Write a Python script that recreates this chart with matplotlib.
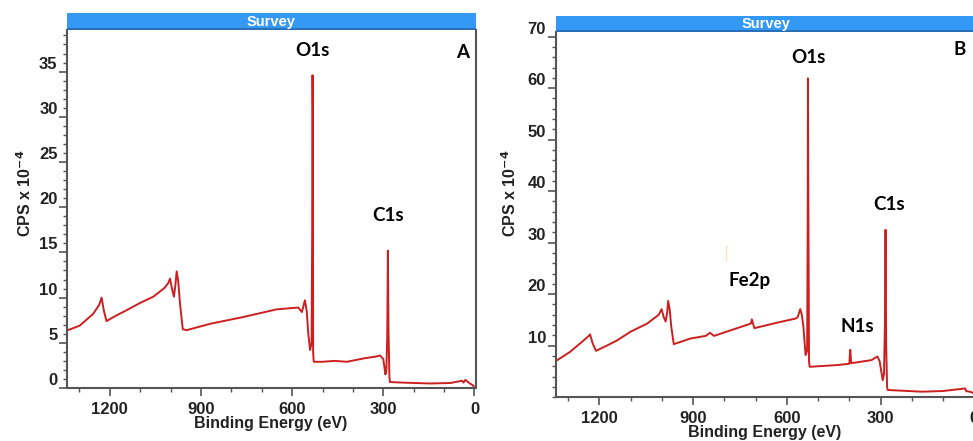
import matplotlib
matplotlib.use("Agg")
import matplotlib.pyplot as plt
from matplotlib.patches import Rectangle
from matplotlib.ticker import MultipleLocator, FixedLocator

# ---------------- data ----------------
be_a = [1338, 1299, 1255, 1235, 1227, 1220, 1211, 1180, 1145, 1101, 1057, 1030,
        1019, 1008, 1002, 995, 989, 984, 980, 975, 969, 960, 947, 870, 761, 651,
        580, 568, 558, 552, 547, 541, 536, 534, 533, 532, 531, 529, 500, 460, 420,
        360, 320, 311, 300, 293, 290, 287, 285, 283, 280, 278, 240, 146, 80, 41,
        36, 30, 15, 5, 0]
cps_a = [6.4, 6.9, 8.2, 9.2, 10.0, 8.6, 7.4, 8.0, 8.6, 9.4, 10.1, 10.8,
         11.1, 11.6, 12.1, 10.9, 10.1, 11.5, 12.9, 11.8, 9.3, 6.5, 6.4, 7.1, 7.85, 8.7,
         8.9, 8.4, 9.7, 8.5, 6.0, 4.2, 5.0, 18.0, 34.6, 30.0, 4.0, 2.9, 2.9, 3.0, 2.9,
         3.3, 3.5, 3.6, 3.2, 1.5, 2.0, 5.8, 15.2, 6.5, 1.2, 0.66, 0.6, 0.5, 0.55, 0.8,
         0.6, 0.9, 0.5, 0.3, 0.0]

be_b = [1335, 1294, 1251, 1236, 1230, 1222, 1211, 1180, 1144, 1101, 1047, 1010,
        1001, 994, 988, 983, 980, 975, 970, 962, 908, 860, 846, 833, 779, 715,
        712, 704, 629, 570, 565, 557, 552, 547, 540, 535, 533, 532.5, 531, 529,
        527, 436, 400, 397, 394, 329, 310, 303, 293, 289, 286, 284, 282, 279,
        277, 168, 100, 29, 26, 10, 2]
cps_b = [7.2, 8.8, 11.0, 11.8, 12.2, 10.5, 9.0, 9.9, 11.0, 12.7, 14.3, 16.0,
         17.1, 15.5, 14.7, 16.5, 18.7, 17.0, 13.7, 10.3, 11.4, 11.9, 12.5, 11.9, 13.0, 14.3,
         15.1, 13.4, 14.5, 15.3, 15.6, 17.1, 16.0, 13.7, 8.2, 9.0, 37.0, 61.9, 37.0, 7.0,
         5.9, 6.25, 6.5, 9.2, 6.6, 7.2, 7.9, 7.0, 3.3, 4.5, 14.0, 32.5, 10.0, 2.0,
         1.4, 1.07, 1.2, 1.7, 1.2, 1.0, 0.75]

yticks_a = [0, 5, 10, 15, 20, 25, 30, 35]
yticks_b = [10, 20, 30, 40, 50, 60, 70]
xticks = [1200, 900, 600, 300, 0]

labels_a = [("O1s", 533, 37.3), ("C1s", 285, 19.1)]
labels_b = [("O1s", 531, 66.0), ("C1s", 272, 37.4), ("Fe2p", 719, 22.6), ("N1s", 374, 13.8)]

# ---------------- styling ----------------
W, H = 973, 441
fig = plt.figure(figsize=(W / 100, H / 100), dpi=100)
red = "#cc1f1f"
blue = "#3399f5"
spine_c = "#555555"
tick_font = dict(family="Liberation Sans", weight="bold", size=12)
peak_font = dict(family="Lato", weight="bold", size=13.5)


def frac(l, r, top, bot):
    return [l / W, 1 - bot / H, (r - l) / W, (bot - top) / H]


def make_panel(rect, bar_rect, be, cps, ylim, yticks, yminor, labels, letter, letter_xy, show_right):
    ax = fig.add_axes(rect)
    ax.plot(be, cps, color=red, lw=1.4)
    ax.set_xlim(1340, -4)
    ax.set_ylim(*ylim)
    ax.xaxis.set_major_locator(FixedLocator(xticks))
    ax.xaxis.set_minor_locator(MultipleLocator(100))
    ax.yaxis.set_major_locator(FixedLocator(yticks))
    ax.yaxis.set_minor_locator(MultipleLocator(yminor))
    ax.set_xticklabels([str(t) for t in xticks], fontdict=tick_font, color="#222222")
    ax.set_yticklabels([str(t) for t in yticks], fontdict=tick_font, color="#222222")
    for lbl in ax.get_yticklabels():
        lbl.set_va("bottom")
    ax.tick_params(axis="both", which="major", direction="out", length=6, width=1.2, color=spine_c)
    ax.tick_params(axis="both", which="minor", direction="out", length=3, width=1.0, color=spine_c)
    ax.tick_params(axis="x", which="major", pad=4)
    ax.tick_params(axis="y", which="major", pad=1)
    for s in ["left", "bottom", "right"]:
        ax.spines[s].set_color(spine_c)
        ax.spines[s].set_linewidth(1.5)
    ax.spines["top"].set_visible(False)
    ax.spines["right"].set_visible(show_right)
    ax.set_xlabel("Binding Energy (eV)", fontdict=dict(family="Liberation Sans", weight="bold", size=11.5),
                  color="#222222")
    ax.set_ylabel(r"CPS x 10$^{\mathbf{-4}}$", fontdict=dict(family="Liberation Sans", weight="bold", size=11.5),
                  color="#222222")
    for txt, x, y in labels:
        ax.text(x, y, txt, ha="center", va="center", color="black", **peak_font)
    ax.text(letter_xy[0], letter_xy[1], letter, transform=ax.transAxes, ha="center", va="center",
            color="black", **peak_font)
    # title bar
    bax = fig.add_axes(bar_rect)
    bax.set_xlim(0, 1)
    bax.set_ylim(0, 1)
    bax.axis("off")
    bax.add_patch(Rectangle((0, 0), 1, 1, facecolor=blue, edgecolor="none"))
    bax.add_patch(Rectangle((0, 0), 1, 0.1, facecolor="#2a6fb8", edgecolor="none"))
    bax.text(0.5, 0.5, "Survey", ha="center", va="center", color="white",
             family="Liberation Sans", weight="bold", size=10.5)
    return ax


axA = make_panel(frac(67.3, 475.7, 30, 388), frac(67.3, 475.7, 13.3, 30), be_a, cps_a, (0, 39.6),
                 yticks_a, 1, labels_a, "A", ((463 - 67.3) / 408.4, (388 - 52) / 358), True)
axA.yaxis.set_label_coords(-(67.3 - 34) / 408.4, (388 - 193) / 358)
axA.xaxis.set_label_coords((271 - 67.3) / 408.4, -(416 - 388) / 358)

axB = make_panel(frac(555.7, 975.5, 32, 397.2), frac(555.7, 975.5, 15.7, 32), be_b, cps_b, (0, 70.9),
                 yticks_b, 2, labels_b, "B", ((960 - 555.7) / 419.8, (397.2 - 50) / 365.2), False)
axB.yaxis.set_label_coords(-(555.7 - 519) / 419.8, (397.2 - 193) / 365.2)
axB.xaxis.set_label_coords((765 - 555.7) / 419.8, -(425 - 397.2) / 365.2)
# faint yellow mark seen in panel B
axB.plot([795, 795], [26.6, 29.3], color="#f0eab0", lw=1.0)

fig.savefig("out.png", dpi=100)
